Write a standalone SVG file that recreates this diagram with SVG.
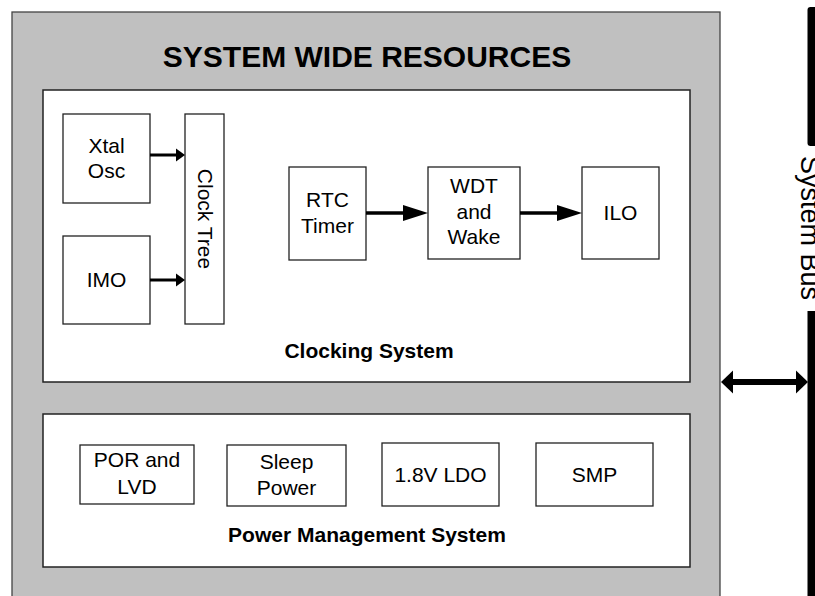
<svg xmlns="http://www.w3.org/2000/svg" width="815" height="596" viewBox="0 0 815 596">
<defs>
<style>
text{font-family:"Liberation Sans",Arial,sans-serif;fill:#000}
.n{font-size:21px;text-anchor:middle}
.b{font-size:21px;font-weight:bold;text-anchor:middle}
.box{fill:#fff;stroke:#222;stroke-width:1.3}
.panel{fill:#fff;stroke:#222;stroke-width:1.5}
.thin{stroke:#000;stroke-width:3;fill:none}
.mid{stroke:#000;stroke-width:3.5;fill:none}
</style>
</defs>
<rect x="0" y="0" width="815" height="596" fill="#fff"/>
<g id="system-wide">
<rect x="12" y="12" width="708" height="600" fill="#c0c0c0" stroke="#444" stroke-width="1.3"/>
<text x="367" y="67" style="font-size:30px;font-weight:bold;text-anchor:middle">SYSTEM WIDE RESOURCES</text>
</g>
<g id="clocking-system">
<rect class="panel" x="43" y="90" width="647" height="292"/>
<text class="b" x="369" y="358">Clocking System</text>
</g>
<g id="xtal-osc">
<rect class="box" x="63" y="114" width="87" height="89"/>
<text class="n" x="106.5" y="153">Xtal</text>
<text class="n" x="106.5" y="177.5">Osc</text>
</g>
<g id="imo">
<rect class="box" x="63" y="236" width="87" height="88"/>
<text class="n" x="106.5" y="287">IMO</text>
</g>
<g id="clock-tree">
<rect class="box" x="185" y="114" width="39" height="210"/>
<text class="n" transform="translate(205,219) rotate(90)" x="0" y="7.5">Clock Tree</text>
</g>
<g id="rtc-timer">
<rect class="box" x="289" y="167" width="77" height="93"/>
<text class="n" x="327.5" y="207">RTC</text>
<text class="n" x="327.5" y="233">Timer</text>
</g>
<g id="wdt-wake">
<rect class="box" x="428" y="167" width="92" height="92"/>
<text class="n" x="474" y="193">WDT</text>
<text class="n" x="474" y="218.5">and</text>
<text class="n" x="474" y="244">Wake</text>
</g>
<g id="ilo">
<rect class="box" x="582" y="167" width="77" height="92"/>
<text class="n" x="620.5" y="219.5">ILO</text>
</g>
<g id="power-management-system">
<rect class="panel" x="43" y="414" width="647" height="153"/>
<text class="b" x="367" y="542">Power Management System</text>
</g>
<g id="por-lvd">
<rect class="box" x="80" y="445" width="114" height="59"/>
<text class="n" x="137" y="467">POR and</text>
<text class="n" x="137" y="494">LVD</text>
</g>
<g id="sleep-power">
<rect class="box" x="227" y="445" width="119" height="61"/>
<text class="n" x="286.5" y="469">Sleep</text>
<text class="n" x="286.5" y="495">Power</text>
</g>
<g id="ldo">
<rect class="box" x="382" y="443" width="117" height="63"/>
<text class="n" x="440.5" y="482">1.8V LDO</text>
</g>
<g id="smp">
<rect class="box" x="536" y="443" width="117" height="63"/>
<text class="n" x="594.5" y="482">SMP</text>
</g>
<g id="system-bus">
<rect x="807.5" y="7" width="12" height="139" rx="3" fill="#000"/>
<rect x="807.5" y="311" width="12" height="300" fill="#000"/>
<text transform="translate(808,228) rotate(90)" x="0" y="7" style="font-size:27px;text-anchor:middle">System Bus</text>
</g>
<g id="connectors">
<line class="thin" x1="150" y1="155" x2="177" y2="155"/>
<polygon points="176,148.5 185,155 176,161.5" fill="#000"/>
<line class="thin" x1="150" y1="280" x2="177" y2="280"/>
<polygon points="176,273.5 185,280 176,286.5" fill="#000"/>
<line class="mid" x1="366" y1="213" x2="405" y2="213"/>
<polygon points="403,205 428,213 403,221" fill="#000"/>
<line class="mid" x1="520" y1="213" x2="559" y2="213"/>
<polygon points="557,205 582,213 557,221" fill="#000"/>
<line x1="730" y1="382" x2="798" y2="382" stroke="#000" stroke-width="6"/>
<polygon points="721,382 733,370.5 733,393.5" fill="#000"/>
<polygon points="808,382 796,370.5 796,393.5" fill="#000"/>
</g>
</svg>
